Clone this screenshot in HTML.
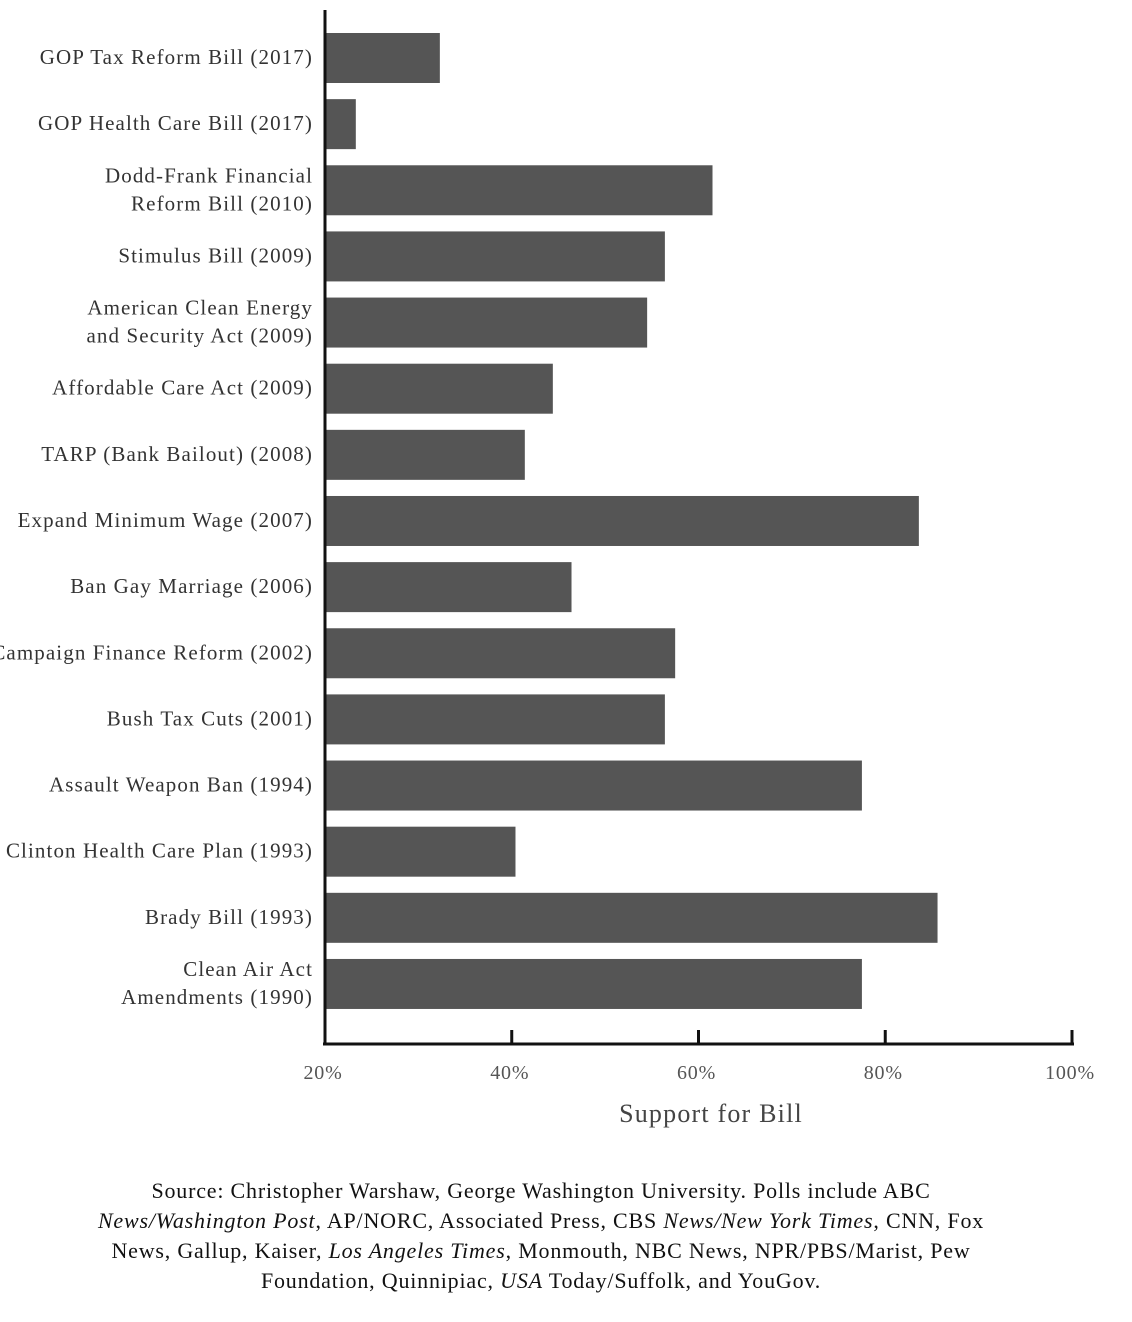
<!DOCTYPE html>
<html><head><meta charset="utf-8"><style>
body{margin:0;background:#fff;width:1132px;height:1322px;overflow:hidden}
svg text{font-family:"Liberation Serif",serif}
.src{position:absolute;left:0;width:1082px;top:1176px;text-align:center;font-family:"Liberation Serif",serif;font-size:22px;letter-spacing:0.8px;line-height:30px;color:#111;white-space:nowrap}
</style></head><body>
<svg id="chart" width="1132" height="1160" style="position:absolute;left:0;top:0"></svg>
<div class="src">Source: Christopher Warshaw, George Washington University. Polls include ABC<br><i>News/Washington Post</i>, AP/NORC, Associated Press, CBS <i>News/New York Times</i>, CNN, Fox<br>News, Gallup, Kaiser, <i>Los Angeles Times</i>, Monmouth, NBC News, NPR/PBS/Marist, Pew<br>Foundation, Quinnipiac, <i>USA</i> Today/Suffolk, and YouGov.</div>
<script>
const categories=[["GOP Tax Reform Bill (2017)"],["GOP Health Care Bill (2017)"],["Dodd-Frank Financial","Reform Bill (2010)"],["Stimulus Bill (2009)"],["American Clean Energy","and Security Act (2009)"],["Affordable Care Act (2009)"],["TARP (Bank Bailout) (2008)"],["Expand Minimum Wage (2007)"],["Ban Gay Marriage (2006)"],["Campaign Finance Reform (2002)"],["Bush Tax Cuts (2001)"],["Assault Weapon Ban (1994)"],["Clinton Health Care Plan (1993)"],["Brady Bill (1993)"],["Clean Air Act","Amendments (1990)"]];
const support=[32.3,23.3,61.5,56.4,54.5,44.4,41.4,83.6,46.4,57.5,56.4,77.5,40.4,85.6,77.5];
const ticks=[20,40,60,80,100];
const tickLabels=["20%","40%","60%","80%","100%"];
const svg=document.getElementById('chart');
const NS='http://www.w3.org/2000/svg';
const x=v=>325+(v-20)*(1072-325)/80;
const yc=i=>58+i*66.14;
function mk(t,a){const e=document.createElementNS(NS,t);for(const k in a)e.setAttribute(k,a[k]);svg.appendChild(e);return e;}
categories.forEach((c,i)=>{
  const r=mk('rect',{x:x(20),y:yc(i)-25,width:x(support[i])-x(20),height:50,fill:'#555'});
  
  
  const t=mk('text',{x:313,'text-anchor':'end','font-size':21,fill:'#333','letter-spacing':'1.1'});
  
  
  c.forEach((ln,j)=>{const s=document.createElementNS(NS,'tspan');s.setAttribute('x',313);s.setAttribute('y',yc(i)+6+(c.length===2?(j===0?-14:14):0));s.textContent=ln;t.appendChild(s);});
});
const ya=mk('line',{x1:325,y1:10,x2:325,y2:1045,stroke:'#111','stroke-width':3});


const xa=mk('line',{x1:323,y1:1044,x2:1074,y2:1044,stroke:'#111','stroke-width':3});


ticks.forEach((v,i)=>{
  if(i>0){const l=mk('line',{x1:x(v),y1:1030,x2:x(v),y2:1044,stroke:'#111','stroke-width':3});
  
  }
  const t=mk('text',{x:x(v)-2,y:1079,'text-anchor':'middle','font-size':20,fill:'#555','letter-spacing':'0.8'});
  t.textContent=tickLabels[i];
  
  
});
const tt=mk('text',{x:711,y:1122,'text-anchor':'middle','font-size':26,fill:'#444','letter-spacing':'1.2'});
tt.textContent='Support for Bill';


</script>
</body></html>
